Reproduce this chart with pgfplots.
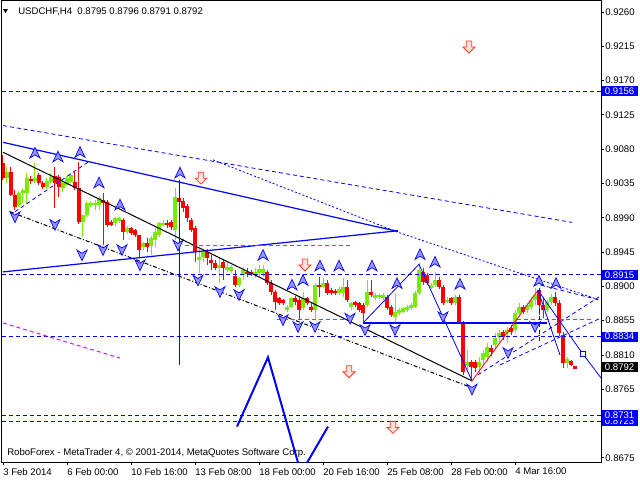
\documentclass[border=0pt]{standalone}
\usepackage{pgfplots}
\pgfplotsset{compat=1.18}
\usepackage{pgfplotstable}
\usepackage{fontspec}
\setmainfont{Liberation Sans}
\definecolor{mtblue}{RGB}{0,0,255}
\definecolor{mtred}{RGB}{255,0,0}
\definecolor{mtgreen}{RGB}{120,235,0}
\definecolor{mtmag}{RGB}{255,0,255}
\definecolor{fracfill}{RGB}{150,150,255}
\definecolor{arrowred}{RGB}{255,60,20}
\tikzset{mtdash/.style={dash pattern=on 3pt off 2.25pt},
  mtdot/.style={dash pattern=on 1.5pt off 1.5pt},
  mtdashdot/.style={dash pattern=on 3pt off 1.5pt on 0.75pt off 1.5pt},
  lvl/.style={anchor=west, xshift=0.75pt, inner xsep=2pt, inner ysep=0pt, minimum height=7.5pt, text width=23pt, align=left, font=\fontsize{7.2}{9}\selectfont, text=white, fill=mtblue}}
\pgfdeclareplotmark{fracup}{%
  \pgfpathmoveto{\pgfqpoint{0pt}{4.2pt}}%
  \pgfpathlineto{\pgfqpoint{3.8pt}{-3.8pt}}%
  \pgfpathlineto{\pgfqpoint{0pt}{-1.4pt}}%
  \pgfpathlineto{\pgfqpoint{-3.8pt}{-3.8pt}}%
  \pgfpathclose\pgfusepathqfillstroke}
\pgfdeclareplotmark{fracdown}{%
  \pgfpathmoveto{\pgfqpoint{0pt}{-4.2pt}}%
  \pgfpathlineto{\pgfqpoint{3.8pt}{3.8pt}}%
  \pgfpathlineto{\pgfqpoint{0pt}{1.4pt}}%
  \pgfpathlineto{\pgfqpoint{-3.8pt}{3.8pt}}%
  \pgfpathclose\pgfusepathqfillstroke}
\pgfdeclareplotmark{redarrow}{%
  \pgfpathmoveto{\pgfqpoint{-2pt}{4.5pt}}%
  \pgfpathlineto{\pgfqpoint{2pt}{4.5pt}}%
  \pgfpathlineto{\pgfqpoint{2pt}{0pt}}%
  \pgfpathlineto{\pgfqpoint{4.5pt}{0pt}}%
  \pgfpathlineto{\pgfqpoint{0pt}{-4.5pt}}%
  \pgfpathlineto{\pgfqpoint{-4.5pt}{0pt}}%
  \pgfpathlineto{\pgfqpoint{-2pt}{0pt}}%
  \pgfpathclose\pgfusepathqfillstroke}

% bearish candles: x, body top, body bottom, high, low
\pgfplotstableread{
x bt bb hi lo
3 .9062 .9042 .9072 .9040
11 .9050 .9020 .9057 .9019
15 .9020 .9004 .9026 .9000
31 .9041 .9038 .9045 .9034
39 .9046 .9036 .9049 .9033
43 .9036 .9030 .9038 .9028
55 .9045 .9036 .9057 .9003
59 .9043 .9030 .9046 .9017
75 .9037 .9029 .9050 .9026
79 .9029 .8984 .9063 .8982
103 .9013 .9009 .9022 .8954
107 .9011 .8981 .9013 .8978
111 .8984 .8981 .8987 .8979
123 .8987 .8971 .8990 .8961
131 .8977 .8970 .8978 .8967
135 .8974 .8967 .8975 .8965
139 .8967 .8948 .8967 .8939
147 .8957 .8952 .8963 .8945
167 .8983 .8981 .8987 .8977
171 .8984 .8978 .8987 .8974
179 .9016 .9011 .9037 .9007
183 .9012 .9003 .9016 .8998
187 .9005 .8990 .9008 .8984
191 .8987 .8974 .8990 .8971
195 .8977 .8945 .8979 .8932
207 .8945 .8937 .8949 .8928
211 .8935 .8931 .8941 .8921
215 .8931 .8924 .8935 .8921
223 .8932 .8924 .8935 .8908
235 .8914 .8902 .8921 .8899
247 .8919 .8916 .8924 .8912
251 .8919 .8916 .8921 .8914
267 .8919 .8904 .8921 .8902
271 .8904 .8893 .8908 .8889
275 .8893 .8879 .8895 .8869
279 .8885 .8878 .8886 .8876
283 .8882 .8878 .8883 .8876
295 .8885 .8879 .8887 .8876
299 .8882 .8869 .8886 .8856
307 .8885 .8878 .8886 .8876
311 .8873 .8869 .8878 .8866
319 .8902 .8899 .8912 .8886
327 .8904 .8891 .8908 .8889
331 .8895 .8891 .8898 .8889
335 .8894 .8891 .8897 .8889
347 .8899 .8882 .8908 .8879
355 .8879 .8876 .8881 .8873
359 .8878 .8869 .8879 .8866
363 .8876 .8865 .8878 .8852
371 .8893 .8889 .8908 .8886
387 .8886 .8872 .8889 .8869
391 .8873 .8862 .8876 .8860
423 .8919 .8906 .8924 .8902
427 .8915 .8904 .8918 .8902
439 .8908 .8899 .8912 .8897
443 .8899 .8878 .8902 .8876
451 .8885 .8878 .8886 .8876
459 .8886 .8853 .8889 .8852
463 .8852 .8788 .8855 .8784
471 .8801 .8794 .8803 .8777
475 .8801 .8793 .8803 .8788
491 .8819 .8814 .8823 .8809
503 .8840 .8834 .8843 .8830
511 .8845 .8840 .8849 .8836
523 .8873 .8866 .8876 .8864
539 .8895 .8876 .8897 .8862
543 .8876 .8869 .8886 .8858
555 .8886 .8878 .8893 .8874
559 .8878 .8839 .8882 .8835
563 .8836 .8799 .8840 .8793
571 .8802 .8797 .8803 .8796
575 .8795 .8792 .8796 .8791
}\redc

% bullish candles: x, body top, body bottom, high, low
\pgfplotstableread{
x bt bb hi lo
7 .9050 .9042 .9057 .9036
19 .9022 .9007 .9025 .9004
23 .9026 .9022 .9029 .9009
27 .9042 .9022 .9049 .9009
35 .9042 .9038 .9062 .9036
47 .9038 .9030 .9042 .9028
51 .9043 .9037 .9049 .9034
63 .9036 .9029 .9040 .9024
67 .9042 .9033 .9045 .9032
71 .9046 .9037 .9049 .9036
83 .8994 .8984 .8994 .8965
87 .9009 .8994 .9012 .8991
91 .9009 .9007 .9012 .9004
95 .9009 .9007 .9013 .9000
99 .9016 .9007 .9019 .9000
115 .8990 .8983 .8991 .8979
119 .8990 .8986 .8991 .8983
127 .8977 .8971 .8979 .8969
143 .8957 .8952 .8958 .8948
151 .8963 .8953 .8966 .8941
155 .8971 .8961 .8977 .8952
159 .8983 .8967 .8984 .8965
163 .8983 .8981 .8987 .8979
175 .9017 .8974 .9029 .8961
199 .8939 .8935 .8950 .8918
203 .8945 .8939 .8948 .8932
219 .8928 .8924 .8937 .8904
227 .8925 .8921 .8932 .8919
231 .8925 .8920 .8928 .8918
239 .8911 .8902 .8912 .8899
243 .8921 .8915 .8925 .8908
255 .8919 .8916 .8924 .8911
259 .8923 .8918 .8928 .8912
263 .8923 .8918 .8928 .8912
287 .8873 .8869 .8876 .8866
291 .8885 .8873 .8886 .8872
303 .8885 .8872 .8893 .8869
315 .8902 .8869 .8904 .8856
323 .8904 .8899 .8911 .8898
339 .8897 .8891 .8899 .8889
343 .8899 .8891 .8911 .8886
351 .8878 .8873 .8879 .8869
367 .8893 .8876 .8908 .8873
375 .8889 .8885 .8891 .8882
379 .8889 .8886 .8890 .8883
383 .8889 .8885 .8891 .8882
395 .8866 .8860 .8891 .8852
399 .8869 .8865 .8872 .8862
403 .8872 .8866 .8873 .8865
407 .8873 .8869 .8876 .8866
411 .8876 .8872 .8878 .8869
415 .8891 .8873 .8894 .8872
419 .8921 .8891 .8931 .8889
431 .8902 .8898 .8904 .8897
435 .8908 .8902 .8919 .8899
447 .8882 .8879 .8886 .8878
455 .8886 .8878 .8889 .8876
467 .8801 .8796 .8817 .8790
479 .8801 .8794 .8807 .8786
483 .8813 .8803 .8817 .8796
487 .8820 .8807 .8826 .8801
495 .8832 .8823 .8839 .8817
499 .8839 .8834 .8843 .8827
507 .8843 .8839 .8847 .8826
515 .8865 .8843 .8869 .8839
519 .8873 .8865 .8878 .8860
527 .8876 .8869 .8878 .8865
531 .8882 .8873 .8886 .8869
535 .8889 .8882 .8898 .8876
547 .8879 .8869 .8882 .8866
551 .8886 .8879 .8890 .8876
567 .8805 .8799 .8807 .8793
}\greenc

\begin{document}
\begin{tikzpicture}
\fill[white] (-1.5pt,-13.5pt) rectangle (478.5pt,346.5pt);
\useasboundingbox (-1.5pt,-13.5pt) rectangle (478.5pt,346.5pt);
\begin{axis}[
  at={(0pt,0pt)}, anchor=south west,
  scale only axis, width=449.25pt, height=345.75pt,
  xmin=2, xmax=601, ymin=0.86696, ymax=0.927443,
  axis line style={line width=0.75pt, black},
  xtick={3,67,131,195,259,323,387,451,515},
  xticklabels={3 Feb 2014, 6 Feb 00:00, 10 Feb 16:00, 13 Feb 08:00, 18 Feb 00:00, 20 Feb 16:00, 25 Feb 08:00, 28 Feb 00:00, 4 Mar 16:00},
  ytick={0.8675,0.8765,0.8810,0.8855,0.8900,0.8945,0.8990,0.9035,0.9080,0.9125,0.9170,0.9215,0.9260},
  yticklabels={0.8675,0.8765,0.8810,0.8855,0.8900,0.8945,0.8990,0.9035,0.9080,0.9125,0.9170,0.9215,0.9260},
  xtick pos=bottom, ytick pos=right, yticklabel pos=right,
  tick align=outside, major tick length=2.5pt,
  tick style={black, line width=0.6pt},
  x tick label style={anchor=north west, inner sep=0pt, yshift=-2pt},
  y tick label style={anchor=west, inner sep=0pt, xshift=0.5pt},
  tick label style={font=\fontsize{7.2}{9}\selectfont},
  scaled y ticks=false,
  clip=true,
]
% candles: wicks and bodies
\addplot[draw=none, mark=none, forget plot, error bars/.cd, y dir=plus, y explicit, error mark=none, error bar style={draw=mtred, line width=0.75pt}] table[x=x, y=lo, y error plus expr=\thisrow{hi}-\thisrow{lo}] {\redc};
\addplot[draw=none, mark=none, forget plot, error bars/.cd, y dir=plus, y explicit, error mark=none, error bar style={draw=mtred, line width=2.3pt}] table[x=x, y=bb, y error plus expr=\thisrow{bt}-\thisrow{bb}] {\redc};
\addplot[draw=none, mark=none, forget plot, error bars/.cd, y dir=plus, y explicit, error mark=none, error bar style={draw=mtgreen, line width=0.75pt}] table[x=x, y=lo, y error plus expr=\thisrow{hi}-\thisrow{lo}] {\greenc};
\addplot[draw=none, mark=none, forget plot, error bars/.cd, y dir=plus, y explicit, error mark=none, error bar style={draw=mtgreen, line width=2.3pt}] table[x=x, y=bb, y error plus expr=\thisrow{bt}-\thisrow{bb}] {\greenc};

% horizontal levels
\addplot[mtblue, mtdash, line width=0.75pt] coordinates {(2,0.9156) (601,0.9156)};
\addplot[mtblue, mtdash, line width=0.75pt] coordinates {(2,0.8915) (601,0.8915)};
\addplot[mtblue, mtdash, line width=0.75pt] coordinates {(2,0.8834) (601,0.8834)};
\addplot[mtblue, mtdash, line width=0.75pt] coordinates {(2,0.8731) (601,0.8731)};
\addplot[mtblue, mtdash, line width=0.75pt] coordinates {(2,0.8723) (601,0.8723)};

% trend lines
\addplot[mtblue, line width=0.9pt] coordinates {(3,0.9089) (398,0.8972)};
\addplot[mtblue, line width=0.9pt] coordinates {(3,0.8919) (398,0.8973)};
\addplot[mtblue, mtdash, line width=0.6pt] coordinates {(3,0.9111) (572,0.8984)};
\addplot[mtblue, mtdot, line width=0.6pt] coordinates {(213,0.9066) (398,0.8971) (600,0.8882)};
\addplot[black, line width=0.75pt] coordinates {(3,0.9076) (472,0.8776)};
\addplot[black, mtdashdot, line width=0.75pt] coordinates {(10,0.8998) (472,0.8767)};
\addplot[mtblue, mtdash, line width=0.6pt] coordinates {(15,0.8998) (88,0.9063)};
\addplot[mtmag, mtdash, line width=0.75pt] coordinates {(3,0.8852) (120,0.8806)};
\addplot[mtmag, mtdash, line width=0.75pt] coordinates {(185,0.8953) (353,0.8953)};
\addplot[mtmag, mtdash, line width=0.75pt] coordinates {(277,0.8856) (350,0.8856)};
\addplot[mtmag, mtdash, line width=0.75pt] coordinates {(517,0.8856) (592,0.8856)};
\addplot[mtblue, line width=0.9pt] coordinates {(363,0.8852) (547,0.8852)};
\addplot[mtblue, line width=0.6pt] coordinates {(363,0.8852) (419,0.8929) (472,0.8776)};
\addplot[mtred, line width=0.6pt] coordinates {(472,0.8776) (538,0.8895)};
\addplot[mtblue, line width=0.6pt] coordinates {(538,0.8895) (583,0.8811) (601,0.8780)};
\addplot[mtblue, line width=0.6pt] coordinates {(538,0.8895) (560,0.8810)};
\addplot[mtblue, line width=1.5pt] coordinates {(237,0.8716) (268,0.8807) (301,0.8655) (328,0.8716)};
\addplot[mtblue, line width=0.75pt] coordinates {(179,0.9040) (179,0.8797)};
\addplot[mtblue, mtdash, line width=0.6pt] coordinates {(539,0.8898) (539,0.8826)};
\addplot[mtblue, mtdash, line width=0.6pt] coordinates {(478,0.8784) (600,0.8887)};
\addplot[mtblue, mtdash, line width=0.6pt] coordinates {(500,0.8797) (600,0.8858)};
\addplot[mtblue, mtdash, line width=0.6pt] coordinates {(540,0.8902) (600,0.8882)};

% markers
\addplot[only marks, mark=square*, mark size=1.8pt, mark options={draw=mtblue, fill=white, line width=0.6pt}] coordinates {(583,0.8811)};
\addplot[only marks, mark=fracup, mark options={draw=mtblue, fill=fracfill, line width=0.5pt}] coordinates {
(35,0.9075) (58,0.9070) (80,0.9076) (99,0.9036) (120,0.9007) (180,0.9049) (263,0.8941) (292,0.8902) (303,0.8908) (320,0.8927) (339,0.8927) (372,0.8927) (397,0.8904) (420,0.8942) (435,0.8932) (460,0.8903) (539,0.8907) (556,0.8904)};
\addplot[only marks, mark=fracdown, mark options={draw=mtblue, fill=fracfill, line width=0.5pt}] coordinates {
(15,0.8991) (55,0.8981) (82,0.8941) (103,0.8948) (122,0.8948) (140,0.8928) (178,0.8954) (198,0.8908) (220,0.8893) (239,0.8889) (283,0.8856) (298,0.8847) (315,0.8847) (350,0.8858) (365,0.8843) (395,0.8843) (443,0.8860) (472,0.8765) (508,0.8813) (535,0.8847)};
\addplot[only marks, mark=redarrow, mark options={draw=arrowred, fill=red!12, line width=0.6pt}] coordinates {
(469,0.9214) (201,0.9042) (305,0.8928) (349,0.8788) (393,0.8715)};

\coordinate (L9156) at (axis cs:601,0.9156);
\coordinate (L8915) at (axis cs:601,0.8915);
\coordinate (L8834) at (axis cs:601,0.8834);
\coordinate (L8792) at (axis cs:601,0.8794);
\coordinate (L8731) at (axis cs:601,0.8731);
\coordinate (L8723) at (axis cs:601,0.8723);
\end{axis}
\node[lvl] at (L9156) {0.9156};
\node[lvl] at (L8915) {0.8915};
\node[lvl] at (L8834) {0.8834};
\node[lvl, fill=black] at (L8792) {0.8792};
\node[lvl] at (L8723) {0.8723};
\node[lvl] at (L8731) {0.8731};
\fill[black] (0.75pt,339.75pt) -- (4.5pt,339.75pt) -- (2.625pt,336.75pt) -- cycle;
\node[anchor=west, inner sep=0pt, font=\fontsize{7.2}{9}\selectfont] at (12pt,337.9pt) {USDCHF,H4\ \ 0.8795 0.8796 0.8791 0.8792};
\node[anchor=west, inner sep=0pt, font=\fontsize{7.2}{9}\selectfont] at (3.75pt,6.75pt) {RoboForex - MetaTrader 4, © 2001-2014, MetaQuotes Software Corp.};
\end{tikzpicture}
\end{document}
